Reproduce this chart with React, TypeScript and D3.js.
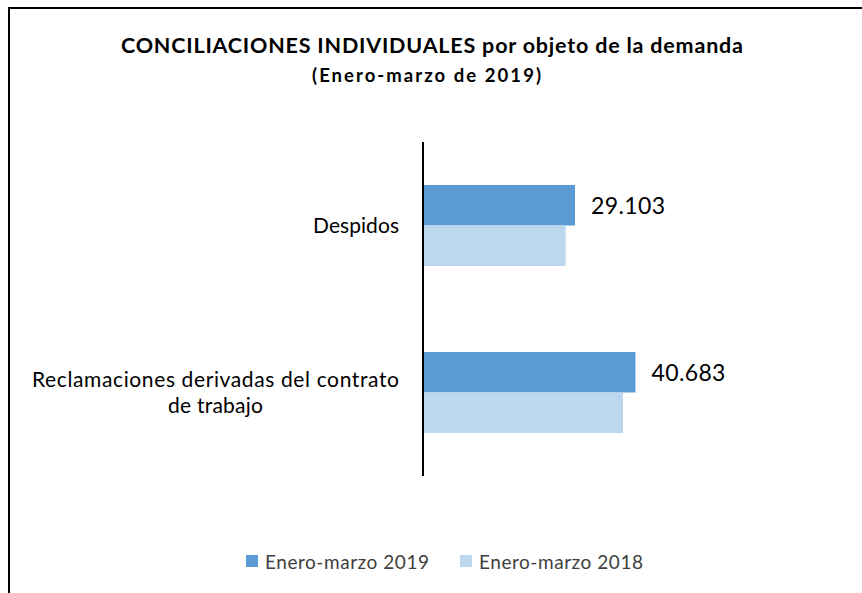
import React from "react";
import * as d3 from "d3";

const categories = ["Despidos", "Reclamaciones derivadas del contrato de trabajo"];
const categoryLines = [["Despidos"], ["Reclamaciones derivadas del contrato", "de trabajo"]];
const seriesNames = ["Enero-marzo 2019", "Enero-marzo 2018"];
const values2019 = [29103, 40683];
const values2018 = [27330, 38300];
const valueLabels2019 = ["29.103", "40.683"];
const colors = ["#5B9BD5", "#BDD7EE"];

const W = 862;
const H = 593;
const FONT = "Lato, 'Open Sans', sans-serif";

// approximate rendered widths of the reference text (for textLength)
const catLineWidths = [[86], [367, 95]];
const legendTextWidth = 164;

export default function App() {
  const y = d3.scaleBand<string>().domain(categories).range([142, 476]).paddingInner(0).paddingOuter(0);
  const x = d3.scaleLinear().domain([0, 45000]).range([423, 658]);
  const sub = d3.scaleBand<string>().domain(seriesNames).range([0, y.bandwidth()]).paddingInner(0).paddingOuter(1.06);
  const seriesVals = [values2019, values2018];

  return (
    <svg width={W} height={H} style={{ position: "absolute", left: 0, top: 0, background: "#fff" }}>
      <rect x={9} y={8} width={W + 20} height={H + 20} fill="#fff" stroke="#000" strokeWidth={2} />
      <text x={432} y={53} textAnchor="middle" fontFamily={FONT} fontWeight="bold" fontSize={21.5} fill="#000"
        textLength={622} lengthAdjust="spacing">
        CONCILIACIONES INDIVIDUALES  por objeto de la demanda
      </text>
      <text x={426.5} y={82} textAnchor="middle" fontFamily={FONT} fontWeight="bold" fontSize={18.5} fill="#000"
        textLength={229} lengthAdjust="spacing">
        (Enero-marzo de 2019)
      </text>
      {categories.map((c, ci) =>
        seriesNames.map((s, si) => {
          const v = seriesVals[si][ci];
          const y0 = (y(c) ?? 0) + (sub(s) ?? 0);
          return (
            <rect key={c + s} x={x(0)} y={y0} width={x(v) - x(0)} height={sub.bandwidth()} fill={colors[si]} />
          );
        })
      )}
      {categories.map((c, ci) => {
        const yc = (y(c) ?? 0) + (sub(seriesNames[0]) ?? 0) + sub.bandwidth() / 2;
        return (
          <text key={"v" + c} x={x(values2019[ci]) + 16} y={yc + 9} fontFamily={FONT} fontSize={23} fill="#000"
            textLength={74} lengthAdjust="spacing">
            {valueLabels2019[ci]}
          </text>
        );
      })}
      <line x1={x(0)} x2={x(0)} y1={y.range()[0]} y2={y.range()[1]} stroke="#000" strokeWidth={2} />
      {categories.map((c, ci) => {
        const lines = categoryLines[ci];
        const yc = (y(c) ?? 0) + y.bandwidth() / 2;
        const lh = 26;
        const startY = yc - ((lines.length - 1) * lh) / 2 + 7;
        const widest = 367;
        const right = 399;
        return (
          <g key={"c" + c}>
            {lines.map((l, li) => (
              <text
                key={li}
                x={lines.length > 1 ? right - widest / 2 : right}
                y={startY + li * lh}
                textAnchor={lines.length > 1 ? "middle" : "end"}
                fontFamily={FONT}
                fontSize={21}
                fill="#000"
                textLength={catLineWidths[ci][li]}
                lengthAdjust="spacing"
              >
                {l}
              </text>
            ))}
          </g>
        );
      })}
      {seriesNames.map((s, si) => {
        const lx = [246, 460][si];
        return (
          <g key={"l" + s}>
            <rect x={lx} y={555} width={12} height={12} fill={colors[si]} />
            <text x={lx + 19} y={569} fontFamily={FONT} fontSize={19} fill="#404040"
              textLength={legendTextWidth} lengthAdjust="spacing">
              {s}
            </text>
          </g>
        );
      })}
    </svg>
  );
}
